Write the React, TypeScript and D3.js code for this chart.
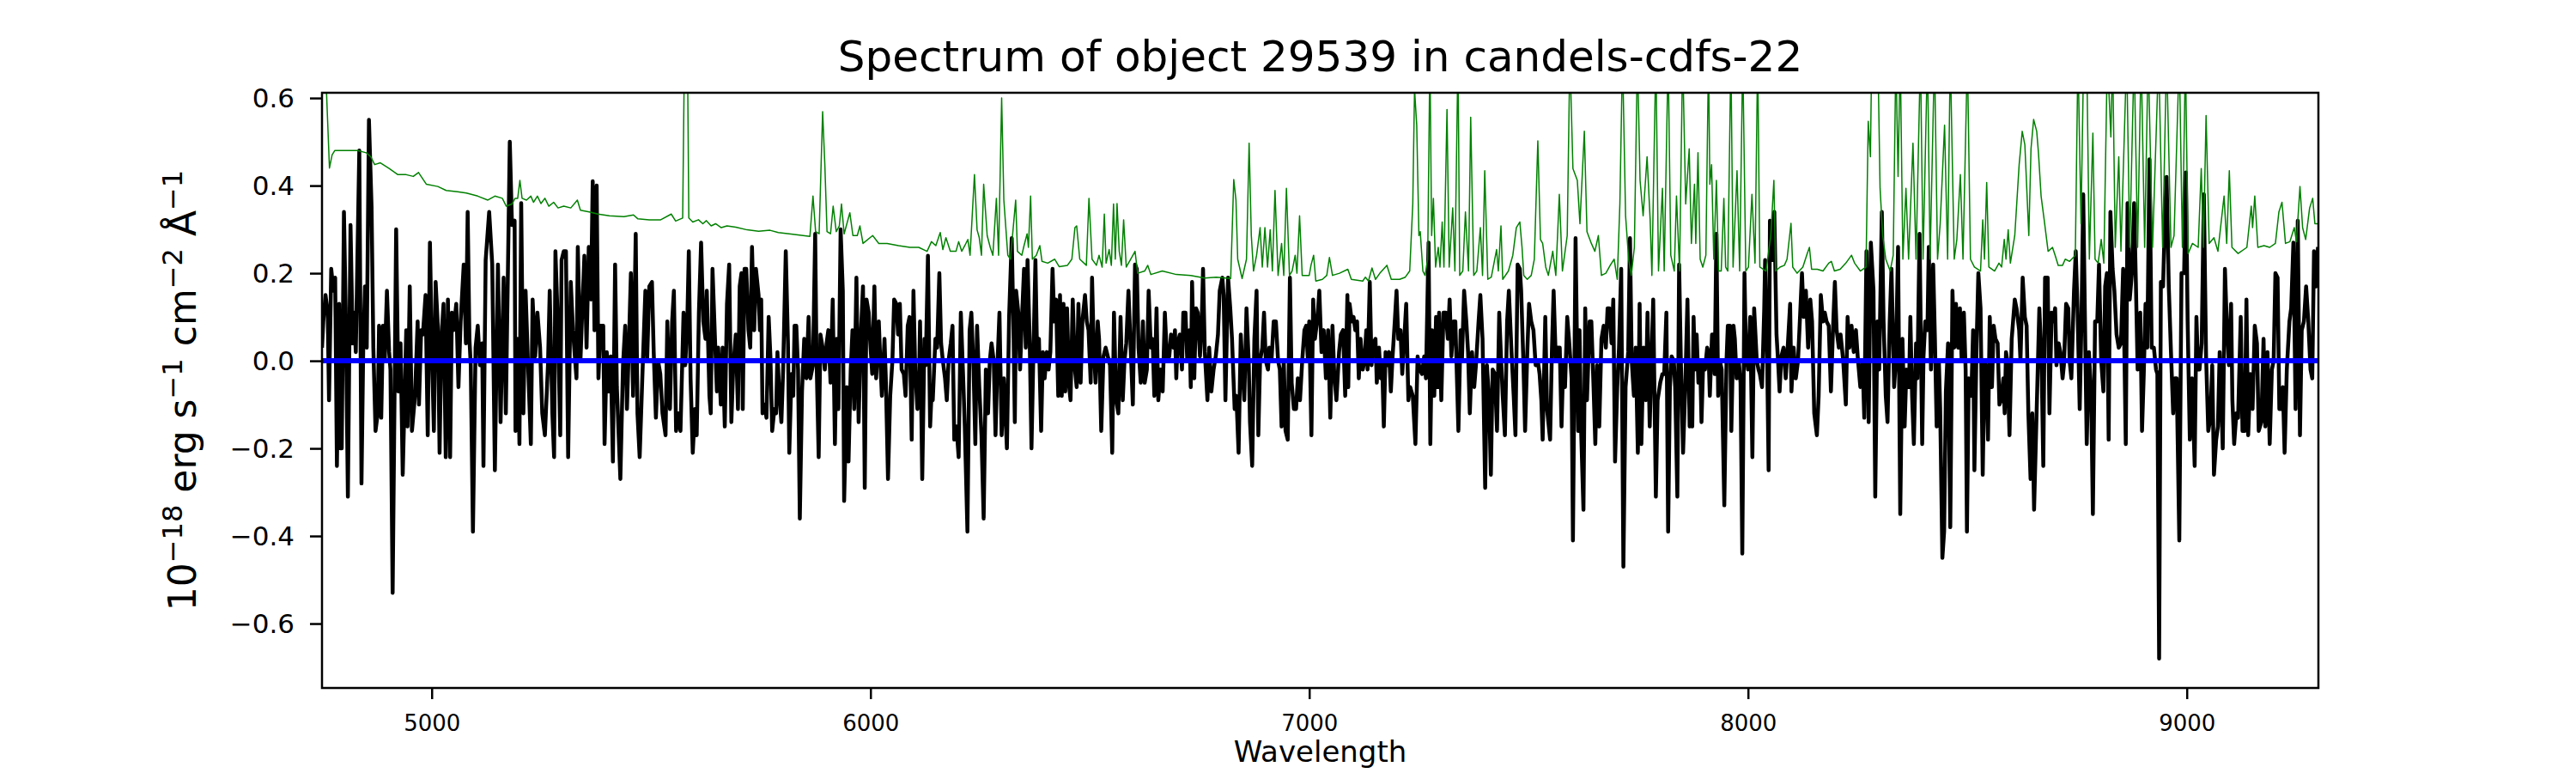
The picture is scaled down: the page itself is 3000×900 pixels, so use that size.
import React, { useEffect, useRef } from 'react';
import * as d3 from 'd3';

// axis setup
const wavelengthRange: [number, number] = [4750, 9300];
const fluxRange: [number, number] = [-0.747, 0.612];
const wavelengthTicks = [5000, 6000, 7000, 8000, 9000];
const fluxTicks = [-0.6, -0.4, -0.2, 0, 0.2, 0.4, 0.6];
const zeroLevel = 0;

const titleText = 'Spectrum of object 29539 in candels-cdfs-22';
const xLabelText = 'Wavelength';

// observed flux (black), [wavelength, flux]
const flux: [number, number][] = [
  [4750,0.03],[4753,0.09],[4758,0.15],[4763,0.11],[4766,-0.09],[4771,0.21],[4776,0.16],[4780,0.19],[4784,-0.24],[4789,0.13],
  [4792,-0.2],[4795,-0.2],[4800,0.34],[4804,0.12],[4809,-0.31],[4815,0.31],[4820,0.04],[4823,0.11],[4827,0.02],[4835,0.48],
  [4840,-0.28],[4844,0.03],[4848,0.17],[4852,0.03],[4857,0.55],[4863,0.35],[4867,0.03],[4872,-0.16],[4877,-0.12],[4880,0.08],
  [4885,-0.13],[4889,0.08],[4893,0],[4898,0.16],[4903,0.02],[4906,-0.02],[4911,-0.53],[4919,0.3],[4924,-0.07],[4929,0.04],
  [4934,-0.26],[4942,0.07],[4945,-0.15],[4950,0.17],[4955,-0.16],[4962,-0.08],[4968,0.09],[4971,-0.1],[4976,0.07],[4980,0.06],
  [4986,0.15],[4991,-0.17],[4996,0.27],[5001,0],[5005,-0.16],[5009,0.18],[5014,0.08],[5018,-0.21],[5022,0.05],[5027,0.13],
  [5032,-0.22],[5037,0.14],[5042,-0.22],[5046,0.11],[5050,0.07],[5056,0.13],[5061,-0.06],[5066,0.09],[5073,0.22],[5078,0.04],
  [5082,0.34],[5086,0.05],[5089,-0.01],[5094,-0.39],[5100,0.03],[5105,0.08],[5110,-0.01],[5115,0.04],[5118,-0.24],[5123,0.23],
  [5131,0.34],[5138,0.22],[5144,-0.25],[5151,0.22],[5157,-0.14],[5164,0.19],[5169,-0.12],[5178,0.5],[5183,0.31],[5189,0.32],
  [5191,-0.16],[5196,0.05],[5200,-0.19],[5204,0.36],[5209,-0.12],[5214,0.16],[5219,0.01],[5226,-0.19],[5230,0.14],[5236,0.01],
  [5241,0.11],[5247,0.03],[5252,-0.12],[5258,-0.17],[5265,-0.01],[5269,0.16],[5275,-0.12],[5279,-0.22],[5282,0.25],[5288,0.07],
  [5293,-0.17],[5296,0.23],[5301,0.25],[5306,0.25],[5311,-0.22],[5317,0.18],[5322,0.07],[5327,0],[5330,-0.04],[5333,0.26],
  [5339,0],[5343,0.11],[5348,0.24],[5353,0.03],[5358,0.26],[5363,0.14],[5367,0.41],[5371,0.07],[5376,0.4],[5380,-0.04],
  [5385,0.08],[5391,0.08],[5394,-0.19],[5399,0.02],[5404,-0.07],[5408,0.01],[5413,-0.23],[5418,0.22],[5422,-0.06],[5430,-0.27],
  [5436,-0.01],[5441,0.08],[5445,-0.11],[5449,0.02],[5454,0.2],[5459,-0.08],[5465,0.29],[5469,-0.12],[5474,-0.22],[5480,-0.04],
  [5487,0.16],[5491,0],[5496,0.17],[5502,0.18],[5506,0.02],[5511,-0.13],[5516,0],[5521,-0.03],
  [5526,-0.12],[5533,-0.17],[5537,0.09],[5543,-0.11],[5548,0.09],[5552,0.16],[5557,-0.16],[5562,-0.12],[5567,-0.16],[5574,0.11],
  [5578,-0.01],[5583,0.11],[5586,0.25],[5590,-0.04],[5595,-0.21],[5600,-0.11],[5604,-0.17],[5609,0.11],[5614,0.27],[5619,0.09],
  [5624,0.05],[5627,0.16],[5633,-0.08],[5636,-0.12],[5640,0.21],[5646,0.04],[5650,-0.07],[5653,0.03],[5659,-0.1],[5663,0.03],
  [5668,-0.15],[5673,0.13],[5678,0.22],[5683,-0.14],[5687,-0.02],[5693,0.06],[5698,-0.11],[5702,0.17],[5706,0.2],[5709,-0.11],
  [5713,0.21],[5717,0.21],[5722,0.07],[5726,0.03],[5730,0.26],[5735,0.07],[5739,0.21],[5745,0.15],[5748,0.07],[5751,0.14],
  [5754,-0.12],[5759,-0.1],[5763,-0.13],[5768,0.1],[5772,0.01],[5776,-0.16],[5781,-0.11],[5785,-0.12],[5788,0.02],[5792,-0.07],
  [5797,-0.14],[5801,-0.02],[5807,0.25],[5812,0.04],[5815,-0.21],[5820,-0.03],[5824,-0.08],[5827,0.08],[5831,0.08],[5835,-0.02],
  [5839,-0.36],[5844,-0.07],[5849,0.05],[5854,-0.04],[5859,0.1],[5863,-0.04],[5869,-0.01],[5874,0.29],[5877,0.01],[5882,-0.22],
  [5886,0.06],[5891,0.03],[5896,-0.02],[5900,0.04],[5904,0.07],[5909,-0.05],[5914,0.14],[5919,-0.19],[5923,0.05],[5927,-0.11],
  [5932,0.3],[5937,0.16],[5940,-0.32],[5946,-0.06],[5950,-0.23],[5955,-0.02],[5959,0.07],[5963,-0.11],[5968,0.19],[5973,-0.14],
  [5978,0.06],[5983,0.17],[5987,-0.29],[5991,0.14],[5996,0.11],[5999,0.05],[6004,-0.03],[6009,0.17],[6013,-0.04],[6019,0.09],
  [6022,0.01],[6026,-0.08],[6032,0.05],[6035,-0.04],[6040,-0.27],[6045,-0.08],[6050,0],[6054,0.14],[6059,0.13],[6063,0.06],
  [6067,0.13],[6071,-0.02],[6076,-0.03],[6080,-0.08],[6085,0.08],[6089,0.1],[6094,-0.18],[6098,0.16],[6102,-0.02],[6107,-0.11],
  [6110,-0.09],[6113,0.09],[6118,-0.27],[6123,0.05],[6126,-0.01],[6131,0.24],[6136,-0.15],[6139,-0.08],[6142,-0.09],[6148,0.05],
  [6152,0.03],[6157,0.2],[6161,0.04],[6165,0],[6170,-0.04],[6174,-0.09],[6178,0],[6183,0.04],[6187,0.08],[6191,-0.18],
  [6196,-0.15],[6201,-0.22],[6206,0.11],[6211,-0.03],[6215,-0.15],[6221,-0.39],[6226,0.07],[6230,0.11],[6235,-0.02],[6239,-0.19],
  [6243,0.08],[6248,-0.06],[6253,-0.17],[6258,-0.36],[6263,-0.02],[6268,-0.12],[6272,0],[6276,0.04],[6281,0],[6285,-0.17],
  [6289,-0.02],[6294,0.11],[6299,-0.17],[6304,-0.04],
  [6311,-0.2],[6316,0.1],[6322,0.28],[6326,0.07],[6329,-0.14],[6332,0.16],[6337,0.11],[6341,-0.02],[6345,0.09],[6350,0.21],
  [6354,0.03],[6358,0.23],[6363,0.04],[6367,-0.2],[6371,0],[6376,0.23],[6380,0],[6384,0.05],[6389,-0.16],[6393,0.02],
  [6397,-0.04],[6402,0.02],[6406,-0.02],[6410,0.02],[6415,0.21],[6419,0.09],[6423,0.14],[6428,-0.08],[6432,0.15],[6436,-0.08],
  [6440,0.13],[6444,-0.07],[6448,0.12],[6453,-0.06],[6456,-0.09],[6461,0.14],[6466,-0.02],[6470,-0.06],[6474,0.13],[6479,-0.05],
  [6483,0.09],[6489,0.15],[6493,0.09],[6497,0.07],[6502,-0.05],[6505,0.19],[6509,0.03],[6513,-0.05],[6518,0.09],[6521,0.05],
  [6526,-0.16],[6531,0.01],[6536,0.03],[6541,0.01],[6546,-0.01],[6551,-0.21],[6555,0.11],[6560,-0.09],[6565,-0.12],[6570,0.1],
  [6575,-0.09],[6579,0],[6583,0.04],[6588,0.16],[6593,0.03],[6598,-0.1],[6603,0.22],[6607,0.21],[6611,0.03],[6616,-0.05],
  [6621,0.09],[6625,-0.05],[6630,-0.02],[6634,0.16],[6639,0.03],[6643,0.05],[6647,-0.08],[6652,0.12],[6656,-0.09],[6661,-0.02],
  [6666,-0.07],[6671,0.11],[6676,0],[6681,0.01],[6685,0.06],[6691,0.03],[6694,0.07],[6697,-0.04],[6700,0.04],[6705,0.06],
  [6710,-0.02],[6713,0.11],[6718,0.11],[6722,0],[6727,0.07],[6730,-0.06],[6733,0.18],[6738,-0.04],[6742,0.12],[6746,0.11],
  [6751,0.01],[6755,0.09],[6758,0.21],[6762,0.02],[6768,-0.09],[6772,0.03],[6777,-0.07],[6782,-0.02],[6787,0.01],[6792,0.06],
  [6796,0.16],[6802,0.19],[6805,0.15],[6809,-0.09],[6815,0.19],[6820,0.12],[6824,0.05],[6830,-0.11],[6834,-0.08],[6839,-0.21],
  [6844,0.06],[6847,0],[6852,-0.09],[6857,0.12],[6862,0],[6865,-0.14],[6870,-0.24],[6875,0.05],[6880,0.16],[6884,-0.17],
  [6888,0],[6893,0.03],[6897,0.11],[6901,0],[6906,-0.02],[6909,0.03],[6914,0],[6919,0.09],[6924,0.09],[6929,0],
  [6933,-0.02],[6937,-0.15],[6942,0],[6946,-0.16],[6951,-0.18],[6956,0.19],[6960,-0.05],[6965,-0.11],[6970,-0.11],[6974,-0.04],
  [6979,-0.09],[6984,0],[6989,0.07],[6993,0.08],[6997,0],[7000,0.09],[7005,-0.17],[7009,0.14],[7013,0.05],[7019,0.1],
  [7023,0.16],[7028,0.02],[7033,0.07],[7038,-0.04],[7043,0.07],[7048,-0.13],[7053,0.08],[7057,-0.03],[7062,-0.09],[7068,0.02],
  [7072,0.06],[7077,0.07],[7082,-0.08],[7087,0.15],
  [7089,-0.06],[7092,0.13],[7097,0.09],[7101,0.1],[7105,0.07],[7109,0.09],[7113,-0.04],[7117,0.05],[7122,-0.02],[7126,0],
  [7130,0.07],[7133,-0.02],[7138,0.18],[7142,-0.01],[7146,0.04],[7151,0.05],[7154,-0.05],[7159,0.03],[7163,-0.04],[7166,0],
  [7170,-0.15],[7174,0.02],[7178,-0.01],[7182,0.02],[7186,-0.07],[7190,0.01],[7195,0.09],[7199,0.16],[7203,0.05],[7208,0.07],
  [7212,-0.03],[7216,0.04],[7221,0.13],[7226,-0.09],[7230,-0.06],[7236,-0.08],[7242,-0.19],[7247,0.01],[7252,-0.02],[7257,-0.03],
  [7262,0.01],[7266,-0.04],[7272,0.27],[7276,-0.19],[7280,0.07],[7285,-0.08],[7289,0.1],[7293,-0.06],[7296,0.11],[7301,-0.09],
  [7306,0.11],[7311,0.11],[7316,0.05],[7320,0.14],[7324,0.01],[7329,0.09],[7333,0.09],[7340,-0.16],[7345,0.07],[7348,0],
  [7353,0.16],[7358,0.09],[7362,0.02],[7366,-0.12],[7371,0.02],[7376,-0.06],[7380,-0.01],[7386,0.09],[7390,0.15],[7395,0.05],
  [7401,-0.29],[7405,-0.01],[7410,-0.09],[7414,-0.26],[7418,-0.02],[7423,-0.03],[7428,-0.16],[7433,0.11],[7437,0.01],[7441,-0.08],
  [7446,-0.17],[7451,0.09],[7455,0.16],[7461,0.02],[7466,-0.08],[7470,-0.17],[7475,0.22],[7480,0.21],[7483,0.16],[7488,0],
  [7492,-0.16],[7497,0.02],[7501,0.13],[7506,0.09],[7511,0.07],[7516,-0.01],[7521,0],[7525,-0.03],[7529,-0.09],[7532,-0.18],
  [7538,0.1],[7542,-0.11],[7549,-0.18],[7553,0.02],[7557,0.16],[7562,0],[7566,0.03],[7571,0.03],[7575,-0.15],[7579,0],
  [7583,-0.06],[7588,0.1],[7592,0.05],[7598,-0.04],[7601,-0.41],[7607,0.28],[7613,-0.16],[7616,0.07],[7620,-0.17],[7625,-0.34],
  [7629,0.12],[7633,-0.09],[7639,0.09],[7643,0.09],[7648,-0.06],[7652,-0.19],[7656,-0.01],[7661,-0.15],[7666,0.05],[7671,0.08],
  [7676,0.03],[7680,0.12],[7684,0.12],[7689,0.04],[7693,0.14],[7697,-0.23],[7702,-0.06],[7706,0.03],[7711,0.21],[7716,-0.47],
  [7721,-0.06],[7727,0.02],[7731,0.28],[7735,0],[7740,-0.08],[7744,0.03],[7749,-0.21],[7753,0.13],[7757,-0.19],[7762,0.03],
  [7767,-0.09],[7771,0.11],[7776,-0.15],[7780,0],[7784,0.14],[7790,-0.31],[7794,-0.09],[7800,-0.05],[7805,-0.03],[7809,-0.03],
  [7814,0.11],[7818,-0.39],[7822,-0.06],[7826,0.01],[7831,0],[7834,-0.06],[7839,-0.31],[7843,0.22],[7847,0],[7852,-0.21],
  [7857,-0.06],[7862,0.14],[7867,-0.15],[7871,0],
  [7873,-0.15],[7876,0.1],[7879,-0.02],[7883,0.06],[7887,-0.05],[7891,0],[7894,-0.14],[7898,0],[7902,-0.02],[7907,0.03],
  [7910,0.02],[7913,-0.08],[7918,0.06],[7922,0.06],[7924,-0.03],[7928,0.29],[7932,-0.08],[7936,0],[7940,-0.02],[7946,-0.33],
  [7951,0],[7954,0.08],[7959,0.08],[7962,-0.16],[7967,0.08],[7970,0.05],[7974,-0.04],[7979,0],[7983,-0.05],[7987,-0.44],
  [7992,0.2],[7995,0.03],[8000,-0.02],[8005,0.1],[8010,-0.22],[8014,0.12],[8020,0],[8024,-0.02],[8027,-0.03],[8032,-0.06],
  [8037,0.12],[8039,0.23],[8044,-0.02],[8047,-0.25],[8050,0.32],[8055,0.23],[8060,0.34],[8065,0.06],[8069,-0.01],[8072,-0.07],
  [8076,0.01],[8081,0.03],[8086,-0.04],[8091,0.04],[8096,0.13],[8099,-0.07],[8104,0.03],[8109,-0.04],[8114,0],[8119,0.11],
  [8123,0.2],[8127,0.1],[8132,0.16],[8137,0.03],[8142,0.14],[8146,0.09],[8151,-0.12],[8157,-0.17],[8161,-0.08],[8166,0.15],
  [8171,0.09],[8175,0.11],[8179,0.09],[8184,0.08],[8189,-0.07],[8194,0.08],[8198,0.18],[8202,0.07],[8207,0.03],[8211,0.06],
  [8217,0],[8223,-0.1],[8227,0.1],[8231,0.03],[8236,0.08],[8241,0.02],[8246,0.07],[8250,0.01],[8256,-0.06],[8261,0],
  [8265,-0.13],[8270,0.25],[8275,-0.14],[8280,0.27],[8286,0.16],[8290,-0.31],[8295,0.09],[8299,-0.02],[8305,0.34],[8309,0.09],
  [8314,-0.08],[8318,-0.14],[8323,0.09],[8327,0.21],[8333,-0.06],[8337,0],[8342,0.26],[8347,-0.35],[8352,0.05],[8357,-0.15],
  [8361,-0.02],[8367,-0.06],[8370,0.1],[8374,-0.08],[8378,-0.19],[8383,0.04],[8386,-0.04],[8391,0.29],[8397,-0.19],[8400,0.01],
  [8404,0.09],[8409,0.07],[8412,0.26],[8417,-0.02],[8422,0.22],[8426,0.05],[8430,-0.15],[8435,0],[8438,-0.11],[8443,-0.45],
  [8447,-0.39],[8451,-0.07],[8456,0.04],[8461,-0.38],[8466,0.16],[8470,0.03],[8474,0.13],[8479,0.03],[8483,0.12],[8487,0],
  [8492,0.11],[8496,-0.02],[8499,-0.39],[8503,-0.04],[8509,-0.08],[8513,0.07],[8516,-0.25],[8521,0.04],[8525,0.2],[8530,0.12],
  [8535,-0.26],[8539,0],[8543,-0.02],[8547,-0.18],[8551,0.1],[8556,-0.06],[8560,0.08],[8564,0.05],[8569,0.04],[8573,-0.1],
  [8577,-0.09],[8582,-0.04],[8585,-0.12],[8588,0.02],[8591,0],[8596,-0.17],[8601,0.05],[8608,0.14],[8612,0.12],[8618,0.07],
  [8621,0],[8626,0.19],[8631,0.1],[8635,0.08],[8639,-0.12],[8644,-0.27],[8648,-0.12],[8652,-0.34],
  [8664,0.12],[8669,0],[8673,-0.24],[8677,0.19],[8683,0.19],[8687,-0.12],[8692,0.11],[8696,0.09],[8700,0.12],[8703,-0.01],
  [8708,0.04],[8712,0.02],[8717,-0.04],[8720,-0.01],[8725,0.13],[8730,0.12],[8733,0],[8737,-0.04],[8743,0.16],[8747,0.25],
  [8751,0.12],[8756,-0.11],[8760,0.09],[8764,0.38],[8769,0.02],[8772,-0.19],[8777,0.02],[8782,-0.07],[8786,-0.35],[8791,0.09],
  [8796,0.09],[8800,0.22],[8805,0],[8810,-0.07],[8814,0.17],[8818,0.2],[8822,-0.18],[8826,0.34],[8831,0.21],[8835,0.16],
  [8840,0.06],[8845,0.03],[8850,0.04],[8855,0.21],[8861,-0.19],[8865,0.36],[8870,0.14],[8875,0.2],[8880,0.36],[8884,0.18],
  [8888,-0.02],[8894,0.11],[8898,-0.16],[8902,-0.03],[8906,0.13],[8910,0.03],[8915,0.46],[8920,0.03],[8925,0.03],[8930,-0.02],
  [8933,-0.03],[8937,-0.68],[8941,0.18],[8946,0.17],[8950,0.32],[8954,0.42],[8959,0.17],[8964,0.02],[8969,-0.12],[8973,-0.04],
  [8977,-0.04],[8983,-0.41],[8988,0.2],[8994,0.2],[8998,0.43],[9002,0.09],[9007,-0.18],[9012,-0.04],[9018,-0.24],[9022,0.1],
  [9026,-0.02],[9029,-0.02],[9034,0.04],[9039,0.38],[9044,0.01],[9049,-0.16],[9054,-0.13],[9058,-0.01],[9062,-0.26],[9067,-0.18],
  [9071,-0.15],[9075,0.02],[9078,-0.07],[9082,-0.2],[9087,0.21],[9091,0.09],[9096,-0.01],[9101,0.13],[9104,-0.09],[9108,-0.19],
  [9113,-0.12],[9117,-0.13],[9123,0.1],[9127,-0.16],[9132,-0.16],[9136,0.14],[9140,-0.17],[9145,-0.03],[9150,-0.11],[9155,0.08],
  [9160,0.04],[9164,-0.16],[9170,-0.14],[9175,0.05],[9179,-0.15],[9184,0.02],[9189,-0.19],[9194,-0.02],[9198,0],[9202,0.2],
  [9207,0.19],[9211,-0.11],[9215,-0.11],[9219,-0.06],[9223,-0.21],[9228,-0.02],[9234,0.09],[9238,0.12],[9243,0.27],[9248,-0.11],
  [9253,0.32],[9258,-0.17],[9262,0.07],[9267,0.09],[9272,0.17],[9277,0.09],[9282,-0.02],[9286,-0.04],[9290,0.25],[9295,0.17],
  [9299,0.26],
];

// flux uncertainty / sky (thin green), [wavelength, value]; 0.7 = off the top
const fluxError: [number, number][] = [
  [4750,0.7],[4760,0.62],[4767,0.44],[4773,0.47],[4779,0.48],[4805,0.48],[4831,0.48],[4851,0.475],[4861,0.466],[4870,0.448],
  [4883,0.452],[4903,0.439],[4923,0.425],[4942,0.425],[4958,0.421],[4970,0.43],[4988,0.403],[5014,0.398],[5033,0.389],[5059,0.386],
  [5079,0.383],[5105,0.376],[5128,0.367],[5144,0.376],[5161,0.371],[5170,0.353],[5183,0.358],[5190,0.371],[5196,0.371],[5201,0.412],
  [5206,0.371],[5216,0.367],[5226,0.376],[5232,0.362],[5241,0.376],[5249,0.359],[5258,0.371],[5267,0.353],[5278,0.362],[5288,0.349],
  [5301,0.353],[5317,0.349],[5332,0.367],[5339,0.344],[5359,0.34],[5379,0.335],[5405,0.331],[5438,0.329],[5460,0.333],[5470,0.324],
  [5496,0.322],[5522,0.322],[5546,0.335],[5556,0.319],[5572,0.326],[5576,0.7],[5583,0.7],[5586,0.326],[5595,0.317],[5608,0.322],
  [5618,0.313],[5626,0.32],[5637,0.308],[5647,0.313],[5660,0.304],[5673,0.308],[5693,0.305],[5719,0.299],[5745,0.296],[5771,0.298],
  [5790,0.293],[5823,0.289],[5862,0.284],[5869,0.376],[5875,0.295],[5883,0.29],[5891,0.569],[5896,0.448],[5901,0.295],[5909,0.29],
  [5915,0.353],[5922,0.295],[5929,0.308],[5934,0.358],[5940,0.29],[5953,0.338],[5960,0.286],[5970,0.286],[5976,0.308],[5983,0.268],
  [6005,0.286],[6019,0.268],[6038,0.268],[6064,0.263],[6090,0.259],[6110,0.259],[6129,0.25],[6139,0.272],[6149,0.263],[6159,0.293],
  [6165,0.254],[6172,0.281],[6182,0.25],[6195,0.25],[6201,0.272],[6208,0.25],[6215,0.263],[6222,0.277],[6227,0.241],[6237,0.425],
  [6243,0.299],[6248,0.281],[6253,0.241],[6258,0.403],[6266,0.286],[6273,0.259],[6279,0.241],[6287,0.371],[6292,0.241],[6299,0.6],
  [6304,0.367],[6313,0.241],[6319,0.232],[6331,0.367],[6335,0.25],[6345,0.241],[6350,0.263],[6357,0.29],[6360,0.259],[6365,0.376],
  [6369,0.232],[6378,0.241],[6386,0.263],[6391,0.227],[6404,0.223],[6420,0.232],[6430,0.215],[6449,0.218],[6459,0.232],[6466,0.304],
  [6470,0.308],[6477,0.232],[6492,0.218],[6498,0.371],[6505,0.232],[6515,0.218],[6521,0.241],[6528,0.214],[6533,0.335],[6537,0.223],
  [6544,0.254],[6549,0.218],[6554,0.358],[6558,0.232],[6562,0.359],[6567,0.25],[6572,0.218],[6577,0.322],[6583,0.214],[6593,0.232],
  [6603,0.25],[6609,0.2],[6625,0.205],[6632,0.218],[6639,0.197],[6665,0.205],[6697,0.197],[6730,0.195],[6762,0.189],[6788,0.191],
  [6821,0.188],[6828,0.414],[6833,0.367],[6837,0.232],[6847,0.188],[6857,0.232],[6863,0.497],[6868,0.286],[6873,0.205],[6880,0.241],
  [6888,0.304],[6893,0.214],[6899,0.304],[6905,0.214],[6911,0.299],[6916,0.205],[6922,0.389],[6929,0.195],[6937,0.268],[6942,0.195],
  [6948,0.394],[6955,0.195],[6961,0.205],[6968,0.241],[6972,0.2],[6978,0.331],[6984,0.195],[7000,0.195],[7004,0.218],[7010,0.241],
  [7015,0.182],[7030,0.186],[7040,0.195],[7046,0.236],[7053,0.195],[7069,0.2],[7088,0.209],[7096,0.186],[7122,0.182],[7128,0.191],
  [7135,0.182],[7143,0.212],[7151,0.186],[7161,0.2],[7177,0.218],[7187,0.186],[7206,0.186],[7219,0.191],[7229,0.205],[7236,0.358],
  [7240,0.62],[7245,0.538],[7250,0.286],[7253,0.295],[7259,0.205],[7264,0.195],[7270,0.232],[7275,0.7],[7279,0.286],[7283,0.371],
  [7288,0.214],[7294,0.259],[7298,0.214],[7303,0.317],[7307,0.214],[7314,0.574],[7319,0.214],[7327,0.349],[7332,0.205],[7339,0.7],
  [7343,0.195],[7350,0.205],[7356,0.34],[7363,0.205],[7368,0.556],[7375,0.195],[7382,0.205],[7390,0.304],[7395,0.195],[7400,0.434],
  [7407,0.186],[7415,0.191],[7427,0.254],[7431,0.205],[7437,0.308],[7441,0.186],[7454,0.205],[7464,0.241],[7472,0.304],[7480,0.317],
  [7485,0.259],[7489,0.195],[7497,0.186],[7506,0.195],[7513,0.232],[7521,0.502],[7527,0.277],[7532,0.268],[7539,0.214],[7545,0.195],
  [7555,0.25],[7562,0.195],[7570,0.38],[7577,0.205],[7588,0.286],[7594,0.7],[7601,0.439],[7611,0.412],[7617,0.313],[7627,0.524],
  [7633,0.295],[7643,0.268],[7651,0.25],[7659,0.286],[7666,0.195],[7676,0.2],[7686,0.218],[7695,0.232],[7702,0.186],[7708,0.358],
  [7714,0.7],[7721,0.331],[7728,0.232],[7734,0.195],[7741,0.259],[7748,0.7],[7754,0.412],[7761,0.331],[7770,0.466],[7777,0.322],
  [7781,0.195],[7790,0.7],[7796,0.205],[7805,0.394],[7809,0.205],[7818,0.7],[7824,0.241],[7832,0.205],[7837,0.376],[7844,0.205],
  [7851,0.7],[7858,0.358],[7866,0.484],[7871,0.268],[7878,0.403],[7881,0.268],[7886,0.475],[7891,0.232],[7897,0.214],[7904,0.241],
  [7910,0.7],[7913,0.403],[7917,0.448],[7922,0.232],[7928,0.412],[7933,0.205],[7939,0.205],[7945,0.371],[7949,0.214],[7954,0.205],
  [7961,0.7],[7966,0.214],[7975,0.434],[7981,0.205],[7988,0.7],[7995,0.205],[8001,0.214],[8009,0.38],[8016,0.223],[8022,0.7],
  [8027,0.214],[8041,0.205],[8052,0.286],[8059,0.412],[8063,0.205],[8073,0.214],[8083,0.218],[8089,0.232],[8098,0.314],[8102,0.214],
  [8112,0.2],[8125,0.214],[8135,0.245],[8140,0.259],[8145,0.209],[8158,0.209],[8171,0.205],[8184,0.223],[8190,0.227],[8197,0.205],
  [8210,0.209],[8223,0.223],[8236,0.241],[8243,0.223],[8256,0.205],[8269,0.214],[8274,0.547],[8279,0.466],[8282,0.7],[8296,0.7],
  [8301,0.394],[8307,0.286],[8314,0.232],[8324,0.205],[8331,0.241],[8337,0.7],[8342,0.421],[8347,0.7],[8353,0.232],[8360,0.394],
  [8366,0.232],[8376,0.497],[8383,0.232],[8393,0.7],[8399,0.232],[8409,0.7],[8415,0.232],[8425,0.7],[8432,0.232],[8438,0.313],
  [8448,0.538],[8455,0.232],[8461,0.7],[8470,0.232],[8476,0.277],[8484,0.425],[8490,0.232],[8500,0.7],[8507,0.232],[8516,0.214],
  [8530,0.205],[8535,0.322],[8539,0.232],[8544,0.407],[8549,0.214],[8562,0.205],[8572,0.223],[8578,0.214],[8584,0.277],[8588,0.232],
  [8593,0.299],[8598,0.223],[8608,0.286],[8618,0.448],[8625,0.524],[8631,0.493],[8640,0.286],[8645,0.484],[8651,0.551],[8658,0.524],
  [8662,0.475],[8668,0.376],[8675,0.322],[8684,0.25],[8694,0.259],[8700,0.241],[8707,0.218],[8717,0.218],[8723,0.232],[8733,0.227],
  [8746,0.241],[8752,0.7],[8759,0.313],[8765,0.7],[8772,0.7],[8778,0.232],[8786,0.52],[8791,0.232],[8798,0.223],[8805,0.277],
  [8811,0.223],[8819,0.7],[8827,0.511],[8831,0.7],[8837,0.259],[8845,0.466],[8850,0.25],[8863,0.7],[8870,0.259],[8880,0.7],
  [8888,0.259],[8896,0.7],[8904,0.259],[8912,0.7],[8922,0.259],[8936,0.7],[8945,0.259],[8954,0.7],[8964,0.259],[8971,0.286],
  [8983,0.7],[8990,0.259],[8997,0.7],[9003,0.245],[9013,0.268],[9026,0.259],[9033,0.439],[9038,0.259],[9044,0.56],[9051,0.268],
  [9062,0.281],[9071,0.25],[9085,0.376],[9091,0.268],[9097,0.434],[9103,0.259],[9117,0.245],[9137,0.259],[9147,0.353],[9150,0.304],
  [9155,0.376],[9162,0.259],[9176,0.263],[9189,0.259],[9202,0.268],[9210,0.34],[9217,0.362],[9225,0.268],[9235,0.272],[9245,0.304],
  [9250,0.272],[9258,0.398],[9264,0.304],[9271,0.277],[9280,0.349],[9287,0.371],[9292,0.313],[9299,0.313],
];

const FONT = '"DejaVu Sans", sans-serif';

const App: React.FC = () => {
  const ref = useRef<SVGSVGElement | null>(null);

  useEffect(() => {
    const width = 3000;
    const height = 900;
    const margin = { top: 108, right: 300, bottom: 99, left: 375 };
    const innerW = width - margin.left - margin.right;
    const innerH = height - margin.top - margin.bottom;

    const root = d3.select(ref.current);
    root.selectAll('*').remove();
    root.attr('width', width).attr('height', height);

    const svg = root.append('g').attr('transform', `translate(${margin.left},${margin.top})`);

    const x = d3.scaleLinear().domain(wavelengthRange).range([0, innerW]);
    const y = d3.scaleLinear().domain(fluxRange).range([innerH, 0]);

    svg.append('clipPath').attr('id', 'plot-clip')
      .append('rect').attr('width', innerW).attr('height', innerH);

    const line = d3.line<[number, number]>().x(d => x(d[0])).y(d => y(d[1]));
    const plot = svg.append('g').attr('clip-path', 'url(#plot-clip)');

    plot.append('path')
      .datum(flux)
      .attr('d', line)
      .attr('fill', 'none')
      .attr('stroke', '#000000')
      .attr('stroke-width', 4.5)
      .attr('stroke-linejoin', 'round');

    plot.append('path')
      .datum(fluxError)
      .attr('d', line)
      .attr('fill', 'none')
      .attr('stroke', '#008000')
      .attr('stroke-width', 1.5)
      .attr('stroke-linejoin', 'round');

    plot.append('path')
      .datum([[wavelengthRange[0], zeroLevel], [wavelengthRange[1], zeroLevel]] as [number, number][])
      .attr('d', line)
      .attr('fill', 'none')
      .attr('stroke', '#0000ff')
      .attr('stroke-width', 6);

    // y axis
    const yAxis = svg.append('g')
      .call(d3.axisLeft(y).tickValues(fluxTicks).tickSize(14).tickPadding(18).tickFormat(d3.format('.1f')));
    yAxis.select('.domain').remove();
    yAxis.selectAll('line').attr('stroke', '#000').attr('stroke-width', 2.5);
    yAxis.selectAll('text')
      .attr('font-family', FONT)
      .attr('font-size', 31)
      .attr('fill', '#000')
      .attr('dy', '0.34em');

    // x axis
    const xAxis = svg.append('g')
      .attr('transform', `translate(0,${innerH})`)
      .call(d3.axisBottom(x).tickValues(wavelengthTicks).tickSize(13).tickPadding(18).tickFormat(d3.format('d')));
    xAxis.select('.domain').remove();
    xAxis.selectAll('line').attr('stroke', '#000').attr('stroke-width', 2.5);
    xAxis.selectAll('text')
      .attr('font-family', FONT)
      .attr('font-size', 26)
      .attr('fill', '#000')
      .attr('dy', '0.73em');

    // frame
    svg.append('rect')
      .attr('width', innerW)
      .attr('height', innerH)
      .attr('fill', 'none')
      .attr('stroke', '#000')
      .attr('stroke-width', 2.5);

    // title
    root.append('text')
      .attr('x', margin.left + innerW / 2)
      .attr('y', 83)
      .attr('text-anchor', 'middle')
      .attr('font-family', FONT)
      .attr('font-size', 50)
      .attr('fill', '#000')
      .text(titleText);

    root.append('text')
      .attr('x', margin.left + innerW / 2)
      .attr('y', 887)
      .attr('text-anchor', 'middle')
      .attr('font-family', FONT)
      .attr('font-size', 34)
      .attr('fill', '#000')
      .text(xLabelText);

    // y label with superscripts
    const base = 44;
    const sup = 32;
    const rise = 16;
    const ylab = root.append('text')
      .attr('transform', `translate(228,${margin.top + innerH / 2}) rotate(-90)`)
      .attr('text-anchor', 'middle')
      .attr('font-family', FONT)
      .attr('font-size', base)
      .attr('fill', '#000')
      .style('white-space', 'pre');
    const parts: [string, boolean][] = [
      ['10', false], ['\u221218', true], [' erg s', false], ['\u22121', true],
      [' cm', false], ['\u22122', true], [' \u00c5', false], ['\u22121', true],
    ];
    let raised = false;
    parts.forEach(([txt, isSup]) => {
      const t = ylab.append('tspan').text(txt);
      if (isSup) {
        t.attr('font-size', sup).attr('dy', -rise);
        raised = true;
      } else if (raised) {
        t.attr('dy', rise);
        raised = false;
      }
    });
  }, []);

  return <svg ref={ref} style={{ position: 'absolute', left: 0, top: 0 }} />;
};

export default App;
